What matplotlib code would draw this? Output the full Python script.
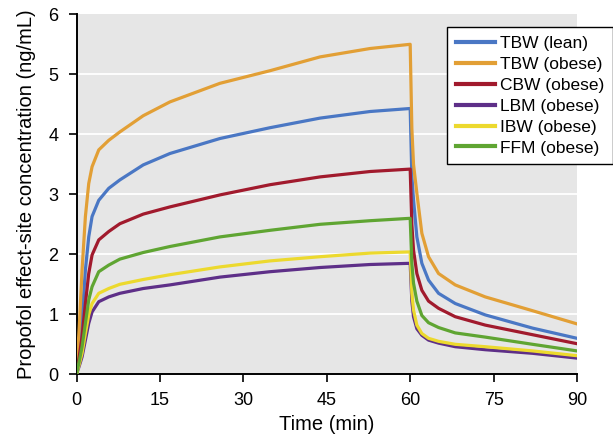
import numpy as np
import matplotlib.pyplot as plt

#-------------------------------------------------------------------------------
# DATA
#-------------------------------------------------------------------------------
time_min = [0, 0.5, 1, 1.6, 2.2, 2.8, 4, 5.8, 7.8, 12, 16.8, 25.8, 34.8, 43.8, 52.8, 60,
            60.3, 60.6, 61.2, 62.1, 63.3, 65.1, 68.1, 73.5, 82, 90]

tbw_lean = [0, 0.45, 0.96, 1.74, 2.29, 2.63, 2.90, 3.10, 3.24, 3.49, 3.68, 3.93,
            4.11, 4.27, 4.38, 4.43,
            3.30, 2.91, 2.29, 1.85, 1.57, 1.35, 1.18, 0.99, 0.77, 0.60]
tbw_obese = [0, 0.80, 1.74, 2.63, 3.18, 3.46, 3.74, 3.90, 4.04, 4.31, 4.54, 4.85,
             5.06, 5.29, 5.43, 5.50,
             4.10, 3.50, 3.02, 2.35, 1.96, 1.68, 1.49, 1.29, 1.06, 0.84]
cbw_obese = [0, 0.30, 0.63, 1.18, 1.68, 1.99, 2.24, 2.38, 2.51, 2.67, 2.79, 2.99,
             3.16, 3.29, 3.38, 3.42,
             2.50, 2.07, 1.68, 1.40, 1.22, 1.10, 0.96, 0.82, 0.66, 0.51]
lbm_obese = [0, 0.14, 0.29, 0.57, 0.85, 1.04, 1.21, 1.29, 1.35, 1.43, 1.49, 1.62,
             1.71, 1.78, 1.83, 1.85,
             1.22, 0.96, 0.76, 0.65, 0.57, 0.52, 0.46, 0.41, 0.35, 0.27]
ibw_obese = [0, 0.17, 0.35, 0.68, 0.99, 1.18, 1.35, 1.43, 1.50, 1.58, 1.66, 1.79,
             1.89, 1.96, 2.02, 2.04,
             1.35, 1.07, 0.82, 0.68, 0.60, 0.55, 0.50, 0.46, 0.39, 0.31]
ffm_obese = [0, 0.22, 0.46, 0.85, 1.24, 1.46, 1.71, 1.82, 1.92, 2.03, 2.13, 2.29,
             2.40, 2.50, 2.56, 2.60,
             1.85, 1.52, 1.22, 0.98, 0.86, 0.78, 0.69, 0.62, 0.50, 0.39]

labels = ['TBW (lean)', 'TBW (obese)', 'CBW (obese)', 'LBM (obese)',
          'IBW (obese)', 'FFM (obese)']
series = [tbw_lean, tbw_obese, cbw_obese, lbm_obese, ibw_obese, ffm_obese]
colors = ['#4a77c4', '#e29f35', '#a11a2d', '#5e2f88', '#ecd92e', '#5fa532']

x_ticks = [0, 15, 30, 45, 60, 75, 90]
y_ticks = [0, 1, 2, 3, 4, 5, 6]

#-------------------------------------------------------------------------------
# PLOT
#-------------------------------------------------------------------------------
plt.rcParams['font.family'] = ['Liberation Sans', 'DejaVu Sans']

fig = plt.figure(figsize=(6.13, 4.40), dpi=100)
ax = fig.add_axes([0.1248, 0.1493, 0.8165, 0.8182])
ax.set_facecolor('#e6e6e6')

for yv in y_ticks[1:-1]:
    ax.axhline(yv, color='white', lw=1.3, zorder=1)

for vals, lab, c in zip(series, labels, colors):
    ax.plot(time_min, vals, color=c, lw=2.3, label=lab, zorder=3,
            solid_joinstyle='round')

ax.set_xlim(0, 90)
ax.set_ylim(0, 6)
ax.set_xticks(x_ticks)
ax.set_yticks(y_ticks)
ax.tick_params(labelsize=13, length=5.5, width=1.2, direction='out', pad=7.5)

for s in ['top', 'right']:
    ax.spines[s].set_visible(False)
for s in ['left', 'bottom']:
    ax.spines[s].set_linewidth(1.4)
    ax.spines[s].set_color('black')

ax.set_xlabel('Time (min)', fontsize=14.5, labelpad=4)
ax.set_ylabel('Propofol effect-site concentration (ng/mL)', fontsize=14.5, labelpad=9)

leg = ax.legend(loc='upper left', bbox_to_anchor=(0.729, 0.938),
                bbox_transform=fig.transFigure, fontsize=12.5, frameon=True,
                fancybox=False, edgecolor='black', framealpha=1,
                handlelength=2.3, handletextpad=0.25, labelspacing=0.33,
                borderpad=0.5, borderaxespad=0)
leg.get_frame().set_linewidth(1.0)
for ln in leg.get_lines():
    ln.set_linewidth(3)

fig.savefig('out.png', dpi=100)
